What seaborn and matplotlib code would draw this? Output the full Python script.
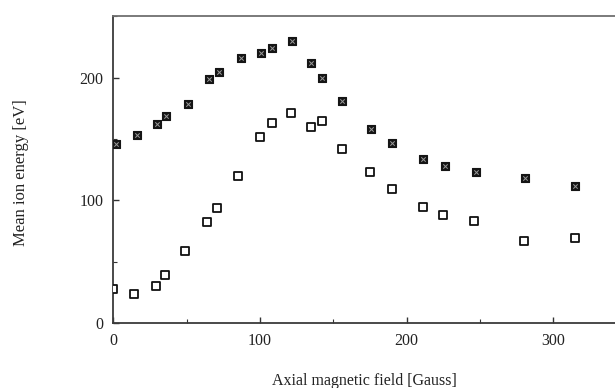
import matplotlib
matplotlib.use("Agg")
import matplotlib.pyplot as plt
import seaborn as sns
import pandas as pd
from matplotlib.ticker import MultipleLocator

# Axial magnetic field [Gauss]
field_filled = [2, 16, 30, 36, 51, 65, 72, 87, 101, 108, 122, 135, 142, 156, 176, 190, 211, 226, 247, 281, 315]
energy_filled = [146, 153, 162, 169, 179, 199, 205, 216, 220, 224, 230, 212, 200, 181, 158, 147, 134, 128, 123, 118, 112]

field_open = [0, 14, 29, 35, 49, 64, 71, 85, 100, 108, 121, 135, 142, 156, 175, 190, 211, 225, 246, 280, 315]
energy_open = [28, 24, 30, 39, 59, 82, 94, 120, 152, 163, 171, 160, 165, 142, 123, 109, 95, 88, 83, 67, 69]

x_ticks = [0, 100, 200, 300]
y_ticks = [0, 100, 200]

sns.set_theme(style="white")
plt.rcParams["font.family"] = ["Liberation Serif", "DejaVu Serif"]

df_f = pd.DataFrame({"field": field_filled, "energy": energy_filled})
df_o = pd.DataFrame({"field": field_open, "energy": energy_open})

fig = plt.figure(figsize=(6.15, 3.88), dpi=100)
ax = fig.add_axes([0.184, 0.1675, 0.816, 0.79])

sns.scatterplot(data=df_o, x="field", y="energy", ax=ax, marker="s", s=34,
                facecolor="white", edgecolor="#111111", linewidth=1.3, zorder=3)
sns.scatterplot(data=df_f, x="field", y="energy", ax=ax, marker="s", s=38,
                color="#151515", edgecolor="#151515", linewidth=0.8, zorder=3)
sns.scatterplot(data=df_f, x="field", y="energy", ax=ax, marker="x", s=10,
                color="#9a9a9a", linewidth=0.7, zorder=4)

ax.set_xlim(0, 342)
ax.set_ylim(0, 250)
ax.set_xticks(x_ticks)
ax.set_yticks(y_ticks)
ax.xaxis.set_minor_locator(MultipleLocator(50))
ax.yaxis.set_minor_locator(MultipleLocator(50))
ax.tick_params(axis="both", which="major", direction="in", length=4, width=1,
               color="#333333", labelsize=11.5, labelcolor="#222222", pad=7,
               bottom=True, left=True)
ax.tick_params(axis="both", which="minor", direction="in", length=3, width=0.8,
               color="#333333", bottom=True, left=True)

for side in ["left", "bottom", "top"]:
    ax.spines[side].set_visible(True)
    ax.spines[side].set_color("#3a3a3a")
    ax.spines[side].set_linewidth(1.3)
ax.spines["top"].set_color("#707070")
ax.spines["right"].set_visible(False)

ax.set_xlabel("Axial magnetic field [Gauss]", fontsize=11.5, color="#222222")
ax.set_ylabel("Mean ion energy [eV]", fontsize=12, color="#222222")
ax.xaxis.set_label_coords(0.5, -0.163)
ax.yaxis.set_label_coords(-0.167, 0.49)

fig.savefig("out.png", dpi=100, facecolor="white")
